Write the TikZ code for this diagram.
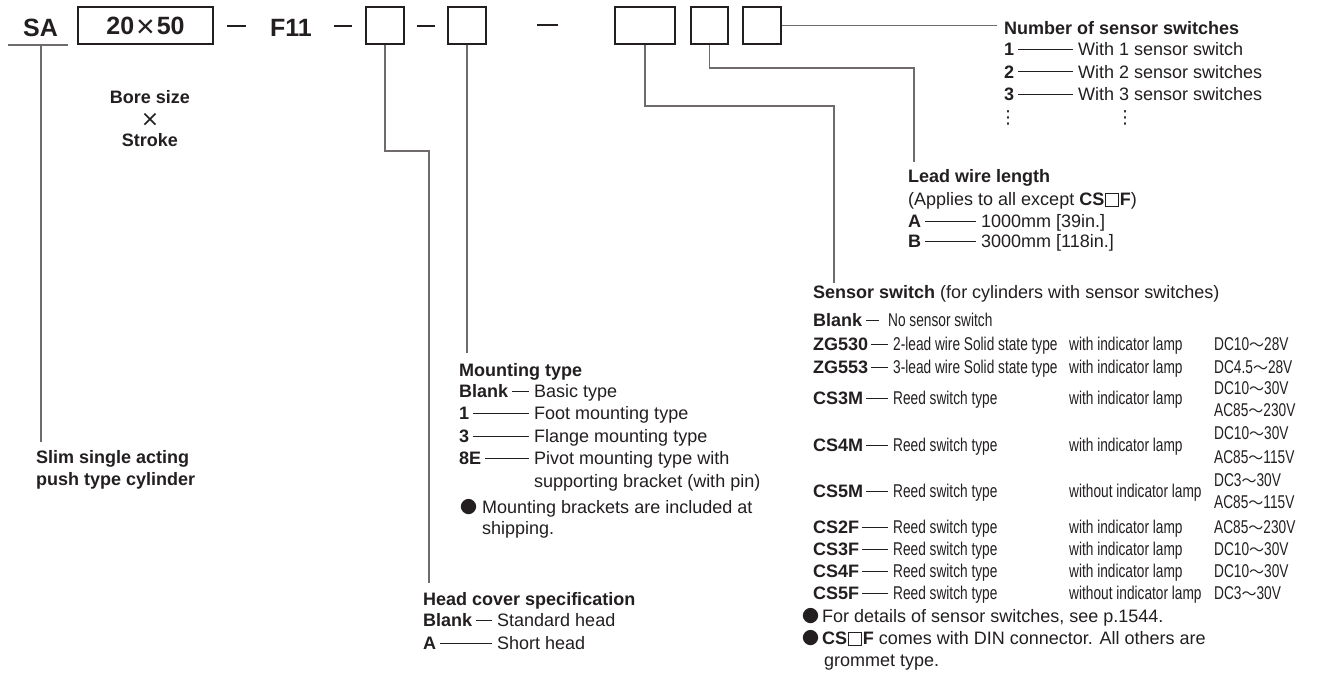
\documentclass[tikz,border=0pt]{standalone}
\usepackage{fontspec}
\setmainfont{Liberation Sans}
\newfontfamily\condfont[FakeStretch=0.74]{Liberation Sans}
\newfontfamily\cjk{Noto Sans CJK JP}
\newfontfamily\symfont{DejaVu Sans}
\usepackage{tikz}
\usepackage{xcolor}
\definecolor{inkBlack}{HTML}{231F20}
\definecolor{leaderGray}{HTML}{6F6B6A}
\newcommand{\bodysize}{\fontsize{18}{22}\selectfont}
\newcommand{\tablesize}{\condfont\fontsize{18.5}{20}\selectfont}
\newcommand{\blanksq}{{\setlength{\fboxsep}{0pt}\setlength{\fboxrule}{0.8pt}\hspace{1pt}\fbox{\rule{0pt}{12pt}\rule{12pt}{0pt}}\hspace{1pt}}}
\newcommand{\wave}{{\cjk\fontsize{15}{15}\selectfont 〜}}

\begin{document}
\begin{tikzpicture}[x=1pt, y=-1pt, inkBlack,
  every node/.style={inner sep=0pt, text=inkBlack},
  txt/.style={anchor=west, font=\bodysize, text height=13pt, text depth=0pt},
  key/.style={txt, font=\bodysize\bfseries},
  cond/.style={anchor=west, font=\tablesize, text height=13pt, text depth=0pt},
  code/.style={font=\fontsize{25}{30}\selectfont\bfseries, text height=18pt, text depth=0pt},
  bullet/.style={anchor=center, font=\cjk\fontsize{17}{17}\selectfont, text height=13pt, text depth=0pt},
  slot/.style={draw=inkBlack, line width=1.3pt, minimum height=37pt},
  sepDash/.style={line width=2.4pt},
  leader/.style={draw=leaderGray, line width=1.4pt},
  rowDash/.style={line width=0.8pt, shorten <=4pt, shorten >=5pt}]

  \fill[white] (0,0) rectangle (1317,675);
  \useasboundingbox (0,0) rectangle (1317,675);

  \node[code] (sa) at (40.5,27) {SA};
  \node[slot, code, minimum width=135pt] (boreBox) at (145.5,25.5) {20\hspace{2pt}\raisebox{-2.5pt}{\mdseries\fontsize{32}{32}\selectfont ×}\hspace{2pt}50};
  \node[code] (series) at (291,27) {F11};
  \node[slot, minimum width=38pt] (headSlot) at (385,25.5) {};
  \node[slot, minimum width=38pt] (mountSlot) at (467,25.5) {};
  \node[slot, minimum width=60pt] (switchSlot) at (645,25.5) {};
  \node[slot, minimum width=37pt] (leadSlot) at (709.5,25.5) {};
  \node[slot, minimum width=38pt] (countSlot) at (762,25.5) {};
  \foreach \a/\b/\y in {227/246/26, 334/352/26, 417/435/26, 537/558/25}
    \draw[sepDash] (\a,\y) -- (\b,\y);

  \node[key, anchor=center] (boreText) at (150,97) {Bore size};
  \node[txt, anchor=center, font=\symfont\fontsize{22}{22}\selectfont] (boreTimes) at (150,120) {×};
  \node[key, anchor=center] (strokeText) at (150,140) {Stroke};

  \coordinate (saBarL) at (8,45);
  \coordinate (saBarR) at (68,45);
  \coordinate (saFoot) at (41,442);
  \draw[leader, line width=2pt] (saBarL) -- (saBarR);
  \draw[leader, line width=2pt] (saFoot |- saBarL) -- (saFoot);
  \node[key] (cylText) at (36,457) {Slim single acting};
  \node[key] (cylTextCont) at (36,479) {push type cylinder};

  \node[key] (countTitle) at (1004,28) {Number of sensor switches};
  \draw[leader, shorten >=7pt] (countSlot.east) -- (countSlot.east -| countTitle.west);
  \foreach \k/\d [count=\i] in {1/With 1 sensor switch, 2/With 2 sensor switches, 3/With 3 sensor switches}{
    \node[key] (countKey\i) at (1004,26.5+22.5*\i) {\k};
    \node[txt] (countDesc\i) at (1078,26.5+22.5*\i) {\d};
    \draw[rowDash] (countKey\i) -- (countDesc\i);
  }
  \node[txt, anchor=center, font=\symfont\fontsize{18}{22}\selectfont] (countMore) at (1008,117) {⋮};
  \node[txt, anchor=center, font=\symfont\fontsize{18}{22}\selectfont] (countMoreDesc) at (1125,117) {⋮};

  \coordinate (leadBend) at (914,68);
  \coordinate (leadTop) at (914,162);
  \draw[leader] (leadSlot.south) |- (leadBend) -- (leadTop);
  \node[key] (leadTitle) at (908,176) {Lead wire length};
  \node[txt] (leadNote) at (908,199) {(Applies to all except \textbf{CS\blanksq F})};
  \foreach \k/\d/\y in {A/1000mm [39in.]/221, B/3000mm [118in.]/241}{
    \node[key] (leadKey\k) at (908,\y) {\k};
    \node[txt] (leadDesc\k) at (981,\y) {\d};
    \draw[rowDash] (leadKey\k) -- (leadDesc\k);
  }

  \coordinate (switchBend) at (834,106);
  \coordinate (switchTop) at (834,283);
  \draw[leader] (switchSlot.south) |- (switchBend) -- (switchTop);
  \node[key] (switchTitle) at (813,292) {Sensor switch {\mdseries (for cylinders with sensor switches)}};
  \node[key] (swKeyBlank) at (813,320) {Blank};
  \node[cond] (swDescBlank) at (888,320) {No sensor switch};
  \draw[rowDash, shorten >=9pt] (swKeyBlank) -- (swDescBlank);
  \foreach \k/\d/\l/\y [count=\i] in {
      ZG530/2-lead wire Solid state type/with indicator lamp/344,
      ZG553/3-lead wire Solid state type/with indicator lamp/367,
      CS3M/Reed switch type/with indicator lamp/398,
      CS4M/Reed switch type/with indicator lamp/445,
      CS5M/Reed switch type/without indicator lamp/491,
      CS2F/Reed switch type/with indicator lamp/527,
      CS3F/Reed switch type/with indicator lamp/549,
      CS4F/Reed switch type/with indicator lamp/571,
      CS5F/Reed switch type/without indicator lamp/593}{
    \node[key] (swKey\i) at (813,\y) {\k};
    \node[cond] (swDesc\i) at (893,\y) {\d};
    \node[cond] (swLamp\i) at (1069,\y) {\l};
    \draw[rowDash, shorten <=3pt] (swKey\i) -- (swDesc\i);
  }
  \foreach \a/\b/\y [count=\j] in {DC10/28V/344, DC4.5/28V/367, DC10/30V/388, AC85/230V/410,
      DC10/30V/433, AC85/115V/457, DC3/30V/480, AC85/115V/502,
      AC85/230V/527, DC10/30V/549, DC10/30V/571, DC3/30V/593}
    \node[cond] (swVolt\j) at (1214,\y) {\a\wave\b};
  \node[bullet] (swDot1) at (810.5,616) {●};
  \node[txt] (swNote1) at (822,616) {For details of sensor switches, see p.1544.};
  \node[bullet] (swDot2) at (810.5,638) {●};
  \node[txt] (swNote2) at (822,638) {\textbf{CS\blanksq F} comes with DIN connector. All others are};
  \node[txt] (swNote2Cont) at (824,660) {grommet type.};

  \coordinate (mountTop) at (467,353);
  \draw[leader] (mountSlot.south) -- (mountTop);
  \node[key] (mountTitle) at (459,370) {Mounting type};
  \foreach \k/\d/\y [count=\i] in {Blank/Basic type/391, 1/Foot mounting type/413,
      3/Flange mounting type/436, 8E/Pivot mounting type with/458}{
    \node[key] (mountKey\i) at (459,\y) {\k};
    \node[txt] (mountDesc\i) at (534,\y) {\d};
    \draw[rowDash] (mountKey\i) -- (mountDesc\i);
  }
  \node[txt] (mountDescCont) at (534,481) {supporting bracket (with pin)};
  \node[bullet] (mountDot) at (468.5,507) {●};
  \node[txt] (mountNote) at (482,507) {Mounting brackets are included at};
  \node[txt] (mountNoteCont) at (482,528) {shipping.};

  \coordinate (headBend) at (429,151);
  \coordinate (headTop) at (429,583);
  \draw[leader] (headSlot.south) |- (headBend) -- (headTop);
  \node[key] (headTitle) at (423,599) {Head cover specification};
  \foreach \k/\d/\y [count=\i] in {Blank/Standard head/620, A/Short head/643}{
    \node[key] (headKey\i) at (423,\y) {\k};
    \node[txt] (headDesc\i) at (497,\y) {\d};
    \draw[rowDash] (headKey\i) -- (headDesc\i);
  }
\end{tikzpicture}
\end{document}
